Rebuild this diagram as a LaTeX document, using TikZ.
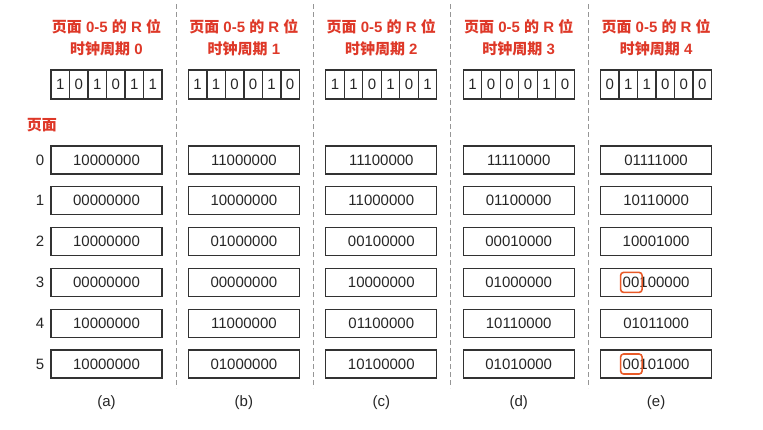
\documentclass[tikz,border=0pt]{standalone}
\usepackage{fontspec}
\setmainfont{Liberation Sans}
\newfontfamily\cjk{Noto Sans CJK SC}
\usetikzlibrary{calc}
\definecolor{titlered}{RGB}{222,56,40}
\definecolor{hl}{RGB}{232,90,40}
\definecolor{edge}{RGB}{50,50,50}
\definecolor{sepgray}{RGB}{150,150,150}
\begin{document}
\begin{tikzpicture}[x=1pt,y=-1pt,
 every node/.style={font=\fontsize{15}{18}\selectfont, text=black!85},
 regbox/.style={draw=edge, line width=1.3pt, minimum width=111pt, minimum height=28pt, inner sep=0pt},
 bitcell/.style={draw=edge, line width=1.3pt, minimum width=18.5pt, minimum height=29pt, inner sep=0pt},
 title/.style={text=titlered, font=\fontsize{15}{18}\selectfont\bfseries},
 sep/.style={draw=sepgray, dashed, line width=1pt, dash pattern=on 5pt off 3pt},
 hlbox/.style={draw=hl, line width=1.6pt, rounded corners=3pt}]
\useasboundingbox (0,0) rectangle (763,429);
% separators
\foreach \i in {0,1,2,3} {
  \draw[sep] (176+137.4*\i,4) -- (176+137.4*\i,388);
}
% page label
\node[title] (pagelabel) at (42,125) {\cjk\bfseries 页面};
% row numbers
\foreach \r in {0,...,5} {
  \node (num\r) at (40,160+40.8*\r) {\r};
}
% columns
\foreach \i/\lab/\bits/\rows in {
  0/a/{1,0,1,0,1,1}/{10000000,00000000,10000000,00000000,10000000,10000000},
  1/b/{1,1,0,0,1,0}/{11000000,10000000,01000000,00000000,11000000,01000000},
  2/c/{1,1,0,1,0,1}/{11100000,11000000,00100000,10000000,01100000,10100000},
  3/d/{1,0,0,0,1,0}/{11110000,01100000,00010000,01000000,10110000,01010000},
  4/e/{0,1,1,0,0,0}/{01111000,10110000,10001000,00100000,01011000,00101000}} {
  \pgfmathsetmacro{\cx}{106.5+137.4*\i}
  \pgfmathsetmacro{\lx}{51+137.4*\i}
  \node[title] (ta\lab) at (\cx,27) {{\cjk\bfseries 页面} 0-5 {\cjk\bfseries 的} R {\cjk\bfseries 位}};
  \node[title] (tb\lab) at (\cx,49) {{\cjk\bfseries 时钟周期} \i};
  \foreach \b [count=\k] in \bits {
    \node[bitcell] (bit\lab\k) at (\lx+18.5*\k-9.25,84.5) {\b};
  }
  \foreach \v [count=\r from 0] in \rows {
    \node[regbox] (reg\lab\r) at (\cx,160+40.8*\r) {\v};
  }
  \node (cap\lab) at (\cx,403) {(\lab)};
}
% highlights
\draw[hlbox] ($(rege3.center)+(-35.5,-10)$) rectangle ($(rege3.center)+(-14,10)$);
\draw[hlbox] ($(rege5.center)+(-35.5,-10)$) rectangle ($(rege5.center)+(-14,10)$);
\end{tikzpicture}
\end{document}
